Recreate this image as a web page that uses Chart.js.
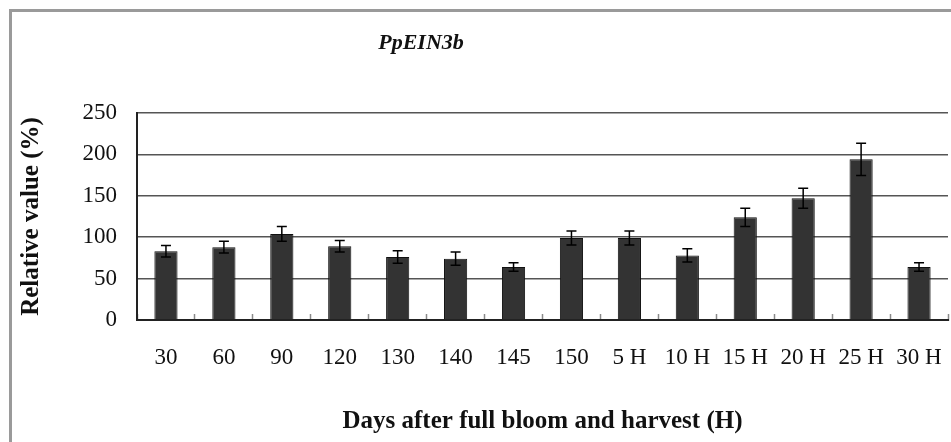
<!DOCTYPE html>
<html>
<head>
<meta charset="utf-8">
<script src="https://cdn.jsdelivr.net/npm/chart.js@4"></script>
<style>
  html, body { margin: 0; padding: 0; background: #fff; }
  #wrap { position: relative; width: 951px; height: 442px; }
</style>
</head>
<body>
<div id="wrap"><canvas id="c" width="951" height="442"></canvas></div>
<script>
const chartTitle = 'PpEIN3b';
const categories = ['30', '60', '90', '120', '130', '140', '145', '150', '5 H', '10 H', '15 H', '20 H', '25 H', '30 H'];
const values = [83, 88, 104, 89, 76, 74, 64, 99, 99, 78, 124, 147, 194, 64];
const errors = [7, 7, 9, 7, 7.5, 8, 5, 8.5, 8.5, 8, 11, 12, 19.5, 5];
const yTicks = [0, 50, 100, 150, 200, 250];
const xAxisTitle = 'Days after full bloom and harvest (H)';
const yAxisTitle = 'Relative value (%)';

const serif = '"Liberation Serif", "Times New Roman", serif';

const framePlugin = {
  id: 'frame',
  beforeDraw(chart) {
    const ctx = chart.ctx;
    ctx.save();
    ctx.fillStyle = '#fff';
    ctx.fillRect(0, 0, chart.width, chart.height);
    ctx.strokeStyle = '#9a9a9a';
    ctx.lineWidth = 3;
    ctx.beginPath();
    ctx.moveTo(10.5, chart.height);
    ctx.lineTo(10.5, 10.5);
    ctx.lineTo(chart.width, 10.5);
    ctx.stroke();
    ctx.restore();
  },
  afterDraw(chart) {
    const ctx = chart.ctx;
    ctx.save();
    ctx.font = 'italic bold 22px ' + serif;
    ctx.fillStyle = '#111';
    ctx.textAlign = 'center';
    ctx.textBaseline = 'middle';
    ctx.fillText(chartTitle, 421, 43);
    ctx.restore();
  }
};

const errorBarPlugin = {
  id: 'errorBars',
  afterDatasetsDraw(chart) {
    const ctx = chart.ctx;
    const meta = chart.getDatasetMeta(0);
    const yScale = chart.scales.y;
    ctx.save();
    ctx.strokeStyle = '#000';
    ctx.lineWidth = 1.5;
    meta.data.forEach((bar, i) => {
      const x = bar.x;
      const yTop = yScale.getPixelForValue(values[i] + errors[i]);
      const yBot = yScale.getPixelForValue(values[i] - errors[i]);
      const cap = 5;
      ctx.beginPath();
      ctx.moveTo(x, yTop); ctx.lineTo(x, yBot);
      ctx.moveTo(x - cap, yTop); ctx.lineTo(x + cap, yTop);
      ctx.moveTo(x - cap, yBot); ctx.lineTo(x + cap, yBot);
      ctx.stroke();
    });
    ctx.restore();
  }
};

new Chart(document.getElementById('c'), {
  type: 'bar',
  data: {
    labels: categories,
    datasets: [{
      data: values,
      backgroundColor: '#333333',
      borderColor: '#111111',
      borderWidth: 1,
      categoryPercentage: 1,
      barPercentage: 0.4
    }]
  },
  options: {
    responsive: false,
    animation: false,
    devicePixelRatio: 1,
    layout: { padding: { top: 113, right: 3, left: 0, bottom: 0 } },
    plugins: {
      legend: { display: false },
      title: { display: false },
      tooltip: { enabled: false }
    },
    scales: {
      x: {
        offset: true,
        grid: {
          offset: true,
          drawOnChartArea: false,
          drawTicks: true,
          tickLength: -6,
          tickColor: '#8a8a8a',
          tickWidth: 1.5
        },
        border: { display: true, color: '#222', width: 2 },
        ticks: {
          color: '#111',
          font: { family: serif, size: 23 },
          padding: 30,
          maxRotation: 0,
          autoSkip: false
        },
        title: {
          display: true,
          text: xAxisTitle,
          color: '#111',
          font: { family: serif, size: 25, weight: 'bold' },
          padding: { top: 0, bottom: 5 }
        },
        afterFit(scale) {
          scale.height = 122;
          scale.paddingLeft = 0;
          scale.paddingRight = 0;
        }
      },
      y: {
        min: 0,
        max: 250,
        afterBuildTicks(scale) { scale.ticks = yTicks.map(v => ({ value: v })); },
        grid: {
          color: '#555',
          lineWidth: 1.5,
          drawTicks: false
        },
        border: { display: true, color: '#222', width: 2 },
        ticks: {
          color: '#111',
          font: { family: serif, size: 23 },
          padding: 20
        },
        title: {
          display: true,
          text: yAxisTitle,
          color: '#111',
          font: { family: serif, size: 25, weight: 'bold' },
          padding: { top: 17, bottom: 0 }
        },
        afterFit(scale) {
          scale.width = 137;
          scale.paddingTop = 0;
          scale.paddingBottom = 0;
        }
      }
    }
  },
  plugins: [framePlugin, errorBarPlugin]
});
</script>
</body>
</html>
